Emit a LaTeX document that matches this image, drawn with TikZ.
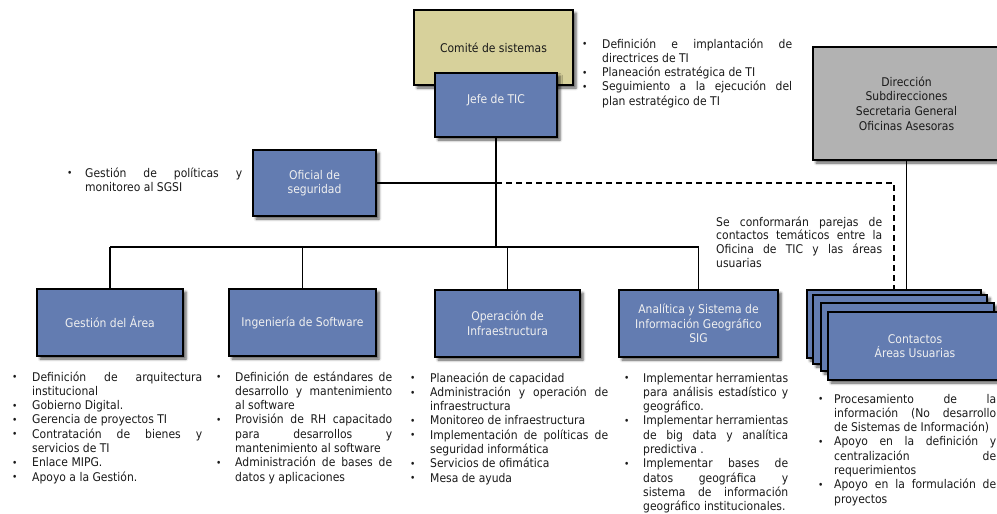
\documentclass[tikz,border=0pt]{standalone}
\usepackage{fontspec}
\setmainfont{DejaVu Sans}[FakeStretch=0.9]
\usetikzlibrary{shadows.blur}
\definecolor{boxblue}{RGB}{99,124,177}
\definecolor{boxtan}{RGB}{215,209,155}
\definecolor{boxgray}{RGB}{178,178,178}
\definecolor{txt}{RGB}{25,25,25}
\newcommand\bulmark[1]{\hangindent=#1\relax\hangafter=1\relax\makebox[#1][l]{\raisebox{0.3pt}{\fontsize{10}{10}\selectfont •}}\ignorespaces}
\newcommand\fb[1][20pt]{\bulmark{#1}}
\newcommand\bul[1][20pt]{\par\noindent\bulmark{#1}}
\newcommand\lstsetup{\tolerance=10000\relax\hbadness=10000\relax\hyphenpenalty=10000\relax\exhyphenpenalty=10000\relax}
\tikzset{
  box/.style={draw=black, line width=1.3pt, inner sep=0pt, align=center,
    font=\fontsize{12}{14.6}\selectfont,
    blur shadow={shadow xshift=3pt, shadow yshift=-3pt, shadow blur radius=2.5pt, shadow opacity=65}},
  bluebox/.style={box, fill=boxblue, text=white!94!black},
  conn/.style={line width=1.2pt, draw=black},
  dashconn/.style={line width=1.2pt, draw=black, dash pattern=on 6pt off 4pt},
  lst/.style={anchor=base west, inner sep=0pt, align=justify, text=txt,
    font=\fontsize{12}{14.3}\selectfont}
}
\begin{document}
\begin{tikzpicture}[x=1pt,y=-1pt]
\useasboundingbox (0,0) rectangle (997,514);
% boxes
\node[box, fill=boxtan, text=txt, minimum width=159pt, minimum height=75pt] (comite) at (493.5,47.5) {Comité de sistemas};
\node[bluebox, minimum width=122pt, minimum height=64pt] (jefe) at (496,105) {Jefe de TIC\\[-3pt]};
\node[box, fill=boxgray, text=txt, minimum width=187pt, minimum height=113pt] (dir) at (906.5,103.5) {Dirección\\Subdirecciones\\Secretaria General\\Oficinas Asesoras};
\node[bluebox, minimum width=123pt, minimum height=66pt] (ofi) at (314.5,183) {Oficial de\\seguridad};
\node[bluebox, minimum width=146pt, minimum height=67pt] (ges) at (110,322.5) {Gestión del Área};
\node[bluebox, minimum width=147pt, minimum height=67pt] (ing) at (302.5,322.5) {Ingeniería de Software};
\node[bluebox, minimum width=145pt, minimum height=67pt] (ope) at (507.5,323.5) {Operación de\\Infraestructura};
\node[bluebox, minimum width=159pt, minimum height=67pt] (ana) at (698.5,323.5) {Analítica y Sistema de\\Información Geográfico\\SIG};
\node[bluebox, minimum width=174pt, minimum height=68pt] (c1) at (894,324) {};
\node[bluebox, minimum width=174pt, minimum height=69pt] (c2) at (900,329.5) {};
\node[bluebox, minimum width=173pt, minimum height=68pt] (c3) at (907.5,337) {};
\node[bluebox, minimum width=174pt, minimum height=68pt] (c4) at (915,346) {Contactos\\Áreas Usuarias};
% connectors
\coordinate (hl) at (110,247);
\coordinate (hr) at (698.5,247);
\coordinate (dj) at (ofi.east -| jefe.south);
\draw[conn] (jefe.south) -- (jefe.south |- hl);
\draw[conn] (ofi.east) -- (dj);
\draw[dashconn] (dj) -- (dj -| c1.north) -- (c1.north);
\draw[conn] (hl) -- (hr);
\draw[conn] (ges.north) -- (ges.north |- hl);
\draw[conn] (ing.north) -- (ing.north |- hl);
\draw[conn] (ope.north) -- (ope.north |- hl);
\draw[conn] (ana.north) -- (ana.north |- hl);
\draw[conn] (dir.south) -- (dir.south |- c1.north);
% texts
\node[lst, text width=210pt] (tjefe) at (582,48) {\lstsetup
\fb Definición e implantación de\linebreak directrices de TI
\bul Planeación estratégica de TI
\bul Seguimiento a la ejecución del\linebreak plan estratégico de TI\par};
\node[lst, text width=175pt] (tofi) at (67,177) {\lstsetup
\fb[18pt] Gestión de políticas y\linebreak monitoreo al SGSI\par};
\node[lst, text width=166pt, font=\fontsize{12}{13.8}\selectfont] (tse) at (716,226) {\lstsetup
Se conformarán parejas de\linebreak contactos temáticos entre la\linebreak Oficina de TIC y las áreas\linebreak usuarias\par};
\node[lst, text width=190pt] (tges) at (12,381) {\lstsetup
\fb Definición de arquitectura\linebreak institucional
\bul Gobierno Digital.
\bul Gerencia de proyectos TI
\bul Contratación de bienes y\linebreak servicios de TI
\bul Enlace MIPG.
\bul Apoyo a la Gestión.\par};
\node[lst, text width=176pt] (ting) at (216,381) {\lstsetup
\fb[19pt] Definición de estándares de\linebreak desarrollo y mantenimiento\linebreak al software
\bul[19pt] Provisión de RH capacitado\linebreak para desarrollos y\linebreak mantenimiento al software
\bul[19pt] Administración de bases de\linebreak datos y aplicaciones\par};
\node[lst, text width=198pt] (tope) at (410,382) {\lstsetup
\fb Planeación de capacidad
\bul Administración y operación de\linebreak infraestructura
\bul Monitoreo de infraestructura
\bul Implementación de políticas de\linebreak seguridad informática
\bul Servicios de ofimática
\bul Mesa de ayuda\par};
\node[lst, text width=164pt] (tana) at (624,382) {\lstsetup
\fb[19pt] Implementar herramientas\linebreak para análisis estadístico y\linebreak geográfico.
\bul[19pt] Implementar herramientas\linebreak de big data y analítica\linebreak predictiva .
\bul[19pt] Implementar bases de\linebreak datos geográfica y\linebreak sistema de información\linebreak geográfico institucionales.\par};
\node[lst, text width=178pt] (tcon) at (818,403) {\lstsetup
\fb[16pt] Procesamiento de la\linebreak información (No desarrollo\linebreak de Sistemas de Información)
\bul[16pt] Apoyo en la definición y\linebreak centralización de\linebreak requerimientos
\bul[16pt] Apoyo en la formulación de\linebreak proyectos\par};
\end{tikzpicture}
\end{document}
